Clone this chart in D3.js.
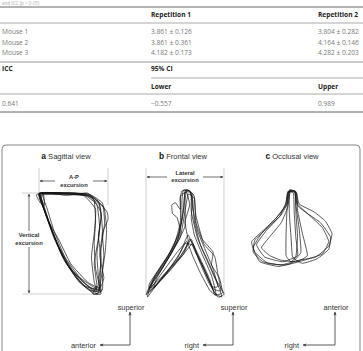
<!DOCTYPE html>
<head>
  <title>Jaw movement traces</title>
  <style>
    body { margin: 0; background: #fff; }
    text { font-family: "Open Sans", sans-serif; }
    .fig text { font-family: "Liberation Sans", Arial, sans-serif; }
  </style>
</head>
<body>
<script src="https://cdn.jsdelivr.net/npm/d3@7"></script>
<script>
// table values
var mice = ["Mouse 1", "Mouse 2", "Mouse 3"];
var rep1Mean = [3.861, 3.861, 4.182], rep1Sd = [0.126, 0.361, 0.173];
var rep2Mean = [3.804, 4.164, 4.282], rep2Sd = [0.282, 0.146, 0.203];
var icc = 0.641, ciLower = -0.557, ciUpper = 0.989;

// traced loops, each panel in its own 0-100 box
var sagittalLoops = [
  [[0,0],[40,0],[72,1],[92,10],[95,30],[90,55],[89,80],[88,96],[78,95],[60,86],[40,70],[22,45],[8,18]],
  [[2,1],[45,0],[75,2],[98,18],[100,26],[92,40],[94,62],[90,85],[85,100],[70,92],[48,76],[28,52],[12,25]],
  [[4,2],[38,1],[68,3],[84,12],[88,35],[84,60],[86,82],[90,97],[72,90],[52,80],[34,62],[18,35],[6,12]],
  [[1,0],[50,1],[76,4],[90,20],[86,45],[80,70],[84,92],[78,98],[58,88],[36,66],[20,40],[6,14]],
  [[3,1],[42,2],[70,0],[80,8],[82,28],[80,50],[82,75],[88,95],[66,92],[44,74],[26,50],[10,22]],
  [[0,1],[48,0],[74,3],[94,14],[98,36],[96,58],[92,78],[92,96],[80,100],[62,90],[42,72],[24,46],[10,20]],
  [[5,0],[36,2],[64,2],[82,16],[80,40],[76,64],[80,88],[84,98],[64,88],[38,64],[22,38],[12,16]],
  [[2,0],[44,1],[70,2],[86,8],[90,24],[86,42],[90,66],[86,90],[90,98],[74,96],[54,84],[32,60],[16,32],[6,10]],
  [[1,1],[40,0],[66,1],[88,12],[92,38],[88,62],[94,84],[88,94],[70,88],[46,70],[30,48],[14,28]],
  [[-4,2],[6,0],[8,12],[2,10]],
  [[84,92],[90,100],[78,100]]
];
var frontalLoops = [
  [[48,0],[56,1],[60,10],[62,30],[70,52],[82,72],[94,92],[97,100],[88,96],[76,76],[64,58],[58,46],[50,56],[34,72],[16,86],[2,96],[8,86],[24,68],[40,48],[46,28],[46,10]],
  [[50,2],[58,3],[58,20],[66,45],[78,64],[90,84],[100,97],[92,100],[80,86],[68,66],[60,50],[46,62],[30,76],[12,90],[0,98],[10,82],[28,62],[42,40],[48,18]],
  [[46,1],[54,0],[62,6],[64,24],[74,50],[88,62],[92,78],[96,94],[86,92],[74,74],[62,56],[54,42],[44,58],[26,78],[6,94],[4,88],[20,70],[36,52],[44,30],[44,8]],
  [[44,6],[52,2],[56,14],[50,30],[54,48],[44,62],[22,80],[4,92],[14,80],[32,60],[44,40],[40,26],[34,22],[33,14],[38,12],[44,18]],
  [[52,0],[60,4],[58,26],[62,42],[72,60],[84,80],[90,98],[82,94],[70,78],[60,62],[52,48],[40,64],[20,82],[2,100],[6,90],[22,72],[38,52],[50,34],[50,12]],
  [[54,4],[62,8],[64,30],[72,46],[86,58],[84,70],[94,82],[98,96],[88,98],[82,84],[72,68],[64,56],[56,46],[48,60],[30,74],[10,92],[14,82],[30,62],[44,44],[50,20]],
  [[50,1],[57,2],[60,18],[66,38],[76,56],[86,74],[92,90],[84,90],[72,70],[60,52],[50,50],[38,60],[22,76],[6,92],[12,80],[28,62],[42,42],[48,20]]
];
var occlusalLoops = [
  [[47,2],[55,2],[56,20],[60,50],[62,80],[50,94],[34,98],[12,92],[4,74],[14,56],[30,38],[44,20]],
  [[48,0],[56,3],[58,18],[70,30],[86,42],[98,60],[96,76],[82,88],[64,94],[52,86],[50,60],[48,30]],
  [[46,4],[54,1],[58,20],[72,32],[88,48],[96,66],[88,82],[66,90],[44,96],[22,94],[6,80],[2,66],[16,52],[32,36],[43,20]],
  [[47,2],[55,2],[56,30],[58,60],[56,85],[50,92],[44,84],[44,56],[45,28]],
  [[46,2],[53,4],[54,30],[56,62],[58,84],[40,92],[18,86],[8,70],[20,52],[36,34],[44,16]],
  [[48,2],[56,2],[60,18],[78,28],[92,40],[100,56],[96,72],[80,86],[60,90],[38,96],[16,92],[4,80],[6,64],[22,48],[38,32],[46,16]],
  [[49,3],[57,4],[58,26],[64,56],[70,84],[56,92],[38,90],[24,84],[14,74],[24,60],[38,42],[46,22]]
];

var svg = d3.select("body").append("svg").attr("width", 363).attr("height", 351);

// ---- table ----
var fmt = d3.format(".3f");
var tb = svg.append("g");
var col1 = 2, col2 = 151, col3 = 318;
function rule(y, x0, w, c) {
  tb.append("line").attr("x1", x0).attr("x2", 363).attr("y1", y).attr("y2", y)
    .attr("stroke", c || "#aaa").attr("stroke-width", w || 1);
}
function cell(x, y, s, bold) {
  tb.append("text").attr("x", x).attr("y", y).attr("dy", "0.35em")
    .style("font-size", "6.6px").attr("fill", bold ? "#222" : "#777")
    .style("font-weight", bold ? "700" : "400").text(s);
}
tb.append("text").attr("x", 2).attr("y", 5).style("font-size", "4.6px").attr("fill", "#aaa").text("and ICC (p > 0.05)");
rule(7, 0, 1.3, "#999");
cell(col2, 15, "Repetition 1", true);
cell(col3, 15, "Repetition 2", true);
rule(23, 0);
var rowY = d3.scalePoint().domain(mice).range([32, 53]);
mice.forEach(function(m, i) {
  cell(col1, rowY(m), m);
  cell(col2, rowY(m), fmt(rep1Mean[i]) + " ± " + fmt(rep1Sd[i]));
  cell(col3, rowY(m), fmt(rep2Mean[i]) + " ± " + fmt(rep2Sd[i]));
});
rule(62, 0, 1.1, "#999");
cell(col1, 69, "ICC", true);
cell(col2, 69, "95% CI", true);
rule(78, col2);
cell(col2, 87, "Lower", true);
cell(col3, 87, "Upper", true);
rule(94, 0);
cell(col1, 104, fmt(icc));
cell(col2, 104, "\u2212" + fmt(Math.abs(ciLower)));
cell(col3, 104, fmt(ciUpper));
rule(112, 0, 1.3, "#999");

// ---- figure ----
var fig = svg.append("g").attr("class", "fig");
fig.append("path")
  .attr("d", "M2,400 L2,149 Q2,145 6,145 L356,145 Q360,145 360,149 L360,400")
  .attr("fill", "none").attr("stroke", "#666").attr("stroke-width", 0.8);

var defs = svg.append("defs");
defs.append("marker").attr("id", "ah").attr("viewBox", "0 0 10 10")
  .attr("refX", 9).attr("refY", 5).attr("markerWidth", 5).attr("markerHeight", 5)
  .attr("orient", "auto-start-reverse")
  .append("path").attr("d", "M0,1 L10,5 L0,9 L3,5 Z").attr("fill", "#333");

function title(cx, letter, rest) {
  var t = fig.append("text").attr("x", cx).attr("y", 156).attr("dy", "0.35em")
    .attr("text-anchor", "middle").style("font-size", "7.6px").attr("fill", "#333");
  t.append("tspan").style("font-weight", "700").style("font-size", "8.4px").attr("fill", "#111").text(letter);
  t.append("tspan").text(" " + rest);
}
title(66, "a", "Sagittal view");
title(183, "b", "Frontal view");
title(292, "c", "Occlusal view");

function gline(x1, y1, x2, y2) {
  fig.append("line").attr("x1", x1).attr("y1", y1).attr("x2", x2).attr("y2", y2)
    .attr("stroke", "#bbb").attr("stroke-width", 0.7);
}
function arrow2(x1, y1, x2, y2) {
  fig.append("line").attr("x1", x1).attr("y1", y1).attr("x2", x2).attr("y2", y2)
    .attr("stroke", "#333").attr("stroke-width", 0.7)
    .attr("marker-start", "url(#ah)").attr("marker-end", "url(#ah)");
}
function label2(cx, y, a, b) {
  [a, b].forEach(function(s, i) {
    fig.append("text").attr("x", cx).attr("y", y + i * 7.5).attr("dy", "0.35em")
      .attr("text-anchor", "middle").style("font-size", "5.8px").style("font-weight", "700")
      .attr("fill", "#333").text(s);
  });
}
function labelBg(cx, cy, w, h) {
  fig.append("rect").attr("x", cx - w / 2).attr("y", cy - h / 2).attr("width", w).attr("height", h).attr("fill", "#fff");
}

// panel a guides
gline(39, 168, 39, 193); gline(108, 168, 108, 205);
gline(22, 193, 40, 193); gline(22, 294, 100, 294);
arrow2(40, 181, 107, 181);
labelBg(74, 181, 38, 16); label2(74, 177, "A-P", "excursion");
arrow2(29, 194, 29, 293);
labelBg(29, 239, 32, 16); label2(29, 235, "Vertical", "excursion");

// panel b guides
gline(146, 168, 146, 293); gline(224, 168, 224, 297);
arrow2(147, 177, 223, 177);
labelBg(185, 177, 36, 18); label2(185, 172.5, "Lateral", "excursion");

// traces
var line = d3.line().curve(d3.curveCardinalClosed.tension(0.6));
function drawPanel(loops, xr, yr) {
  var x = d3.scaleLinear().domain([0, 100]).range(xr);
  var y = d3.scaleLinear().domain([0, 100]).range(yr);
  fig.append("g").selectAll("path").data(loops).enter().append("path")
    .attr("d", function(d) { return line(d.map(function(p) { return [x(p[0]), y(p[1])]; })); })
    .attr("fill", "none").attr("stroke", "#111").attr("stroke-width", 0.7);
}
drawPanel(sagittalLoops, [39, 108], [193, 294]);
drawPanel(frontalLoops, [146, 224], [190, 297]);
drawPanel(occlusalLoops, [250, 332], [190, 268]);

// orientation keys
function key(cx, upLabel, leftLabel, leftEnd) {
  fig.append("text").attr("x", cx + 1).attr("y", 307).attr("dy", "0.35em").attr("text-anchor", "middle")
    .style("font-size", "7.4px").attr("fill", "#333").text(upLabel);
  fig.append("path").attr("d", "M" + leftEnd + ",345 L" + cx + ",345 L" + cx + ",312")
    .attr("fill", "none").attr("stroke", "#333").attr("stroke-width", 0.8)
    .attr("marker-start", "url(#ah)").attr("marker-end", "url(#ah)");
  fig.append("text").attr("x", leftEnd - 4).attr("y", 345).attr("dy", "0.35em").attr("text-anchor", "end")
    .style("font-size", "7.4px").attr("fill", "#333").text(leftLabel);
}
key(130, "superior", "anterior", 100);
key(233, "superior", "right", 203);
key(335, "anterior", "right", 303);
</script>
</body>
